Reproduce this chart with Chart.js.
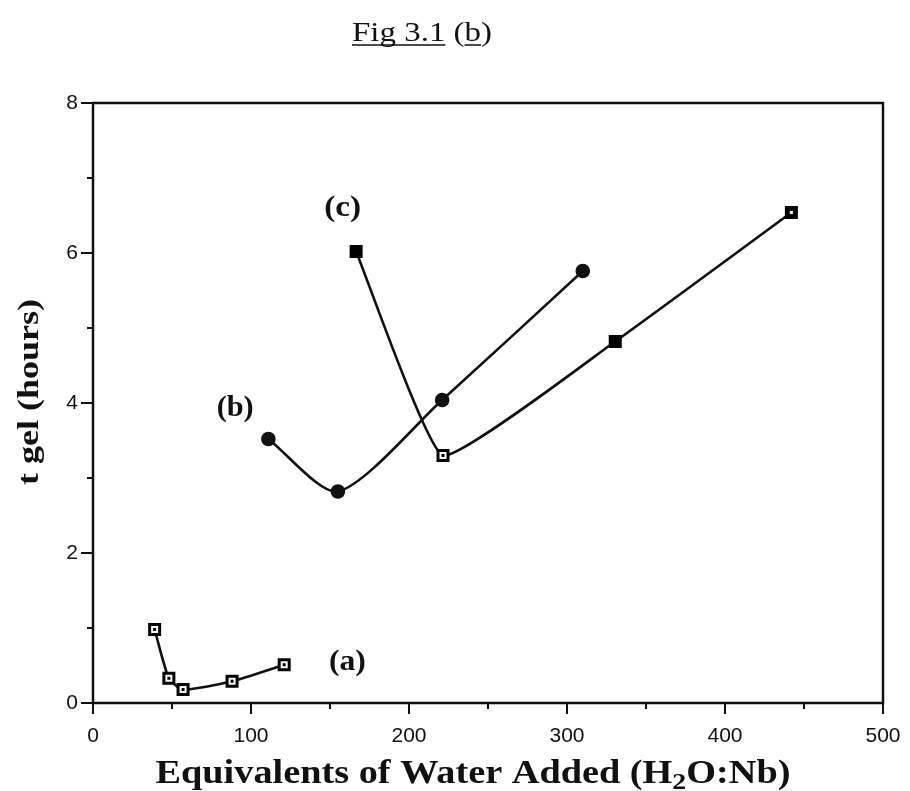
<!DOCTYPE html>
<html>
<head>
<meta charset="utf-8">
<script src="https://cdn.jsdelivr.net/npm/chart.js@4.4.1/dist/chart.umd.min.js"></script>
<style>
html,body{margin:0;padding:0;background:#fff;}
#wrap{width:910px;height:791px;position:relative;}
</style>
</head>
<body>
<div id="wrap"><canvas id="c" width="910" height="791"></canvas></div>
<script>
// ---- data ----
const seriesA_x = [39, 48, 57, 88, 121];
const seriesA_y = [0.98, 0.33, 0.18, 0.29, 0.51];
const seriesB_x = [111, 155, 221, 310];
const seriesB_y = [3.52, 2.82, 4.04, 5.76];
const seriesC_x = [166.5, 221.5, 330.5, 442];
const seriesC_y = [6.02, 3.30, 4.82, 6.54];
const xTicks = [0, 100, 200, 300, 400, 500];
const yTicks = [0, 2, 4, 6, 8];
const curveLabels = ["(a)", "(b)", "(c)"];
const curveLabelX = [161, 90, 158];
const curveLabelY = [0.55, 3.93, 6.6];
const chartTitle = "Fig 3.1 (b)";
const yTitle = "t gel (hours)";

// ---- marker images ----
function makeSquare(kind){
  const s = 15, cv = document.createElement('canvas');
  cv.width = s; cv.height = s;
  const g = cv.getContext('2d');
  g.fillStyle = '#000';
  g.fillRect(1,1,13,13);
  if (kind === 'open'){
    g.fillStyle = '#fff';
    g.fillRect(4,4,7,7);
    g.fillStyle = '#000';
    g.fillRect(6,6,3,3);
  } else if (kind === 'dot'){
    g.fillStyle = '#fff';
    g.fillRect(6,6,3,3);
  }
  return cv;
}
const sqOpen = makeSquare('open');
const sqFilled = makeSquare('filled');
const sqDot = makeSquare('dot');

const toPts = (xs, ys) => xs.map((x, i) => ({x: x, y: ys[i]}));

// draw text stretched horizontally to a target width, centred at (cx, y)
function stretchText(ctx, text, font, cx, y, targetW){
  ctx.font = font;
  const w = ctx.measureText(text).width;
  const sx = targetW / w;
  ctx.save();
  ctx.translate(cx, y);
  ctx.scale(sx, 1);
  ctx.textAlign = 'center';
  ctx.fillText(text, 0, 0);
  ctx.restore();
  return sx;
}

// ---- plugins ----
const framePlugin = {
  id: 'frame',
  afterDraw(chart){
    const {ctx, chartArea: a, scales} = chart;
    ctx.save();
    ctx.strokeStyle = '#111';
    ctx.fillStyle = '#111';
    ctx.lineWidth = 2.5;
    ctx.strokeRect(a.left, a.top, a.right - a.left, a.bottom - a.top);
    ctx.lineWidth = 2;
    scales.y.ticks.forEach(t => {
      const p = scales.y.getPixelForValue(t.value);
      const major = t.value % 2 === 0;
      ctx.beginPath();
      ctx.moveTo(a.left - (major ? 12 : 6), p);
      ctx.lineTo(a.left, p);
      ctx.stroke();
    });
    scales.x.ticks.forEach(t => {
      const p = scales.x.getPixelForValue(t.value);
      const major = t.value % 100 === 0;
      ctx.beginPath();
      ctx.moveTo(p, a.bottom);
      ctx.lineTo(p, a.bottom + (major ? 11 : 6));
      ctx.stroke();
    });
    // curve labels
    ctx.textBaseline = 'middle';
    curveLabels.forEach((l, i) => {
      stretchText(ctx, l, 'bold 30px "Liberation Serif", serif',
        scales.x.getPixelForValue(curveLabelX[i]), scales.y.getPixelForValue(curveLabelY[i]), 37);
    });
    // chart title with underline
    ctx.textBaseline = 'alphabetic';
    const tFont = '27px "Liberation Serif", serif';
    const tcx = 422, tyb = 41, tW = 140;
    const sx = stretchText(ctx, chartTitle, tFont, tcx, tyb, tW);
    ctx.font = tFont;
    const x0 = tcx - tW / 2;
    const wFig = ctx.measureText("Fig 3.1").width * sx;
    const wPre = ctx.measureText("Fig 3.1 (").width * sx;
    const wB = ctx.measureText("b").width * sx;
    ctx.lineWidth = 1.6;
    ctx.beginPath();
    ctx.moveTo(x0, tyb + 4); ctx.lineTo(x0 + wFig, tyb + 4);
    ctx.moveTo(x0 + wPre, tyb + 4); ctx.lineTo(x0 + wPre + wB, tyb + 4);
    ctx.stroke();
    // y title
    ctx.save();
    ctx.translate(30, 392);
    ctx.rotate(-Math.PI / 2);
    ctx.textBaseline = 'middle';
    stretchText(ctx, yTitle, 'bold 30px "Liberation Serif", serif', 0, 0, 186);
    ctx.restore();
    // x title with subscript, stretched
    const parts = [
      {t: "Equivalents of Water Added (H", sub: false},
      {t: "2", sub: true},
      {t: "O:Nb)", sub: false}
    ];
    const fMain = 'bold 33px "Liberation Serif", serif';
    const fSub = 'bold 24px "Liberation Serif", serif';
    let tw = 0;
    parts.forEach(p => { ctx.font = p.sub ? fSub : fMain; p.w = ctx.measureText(p.t).width; tw += p.w; });
    const targetW = 635;
    const xs = targetW / tw;
    ctx.save();
    ctx.translate(473 - targetW / 2, 783);
    ctx.scale(xs, 1);
    ctx.textAlign = 'left';
    ctx.textBaseline = 'alphabetic';
    let cx = 0;
    parts.forEach(p => {
      ctx.font = p.sub ? fSub : fMain;
      ctx.fillText(p.t, cx, p.sub ? 6 : 0);
      cx += p.w;
    });
    ctx.restore();
    ctx.restore();
  }
};

const lineDefaults = {
  borderColor: '#111',
  borderWidth: 2.6,
  showLine: true,
  fill: false
};

new Chart(document.getElementById('c'), {
  type: 'scatter',
  data: {
    datasets: [
      Object.assign({}, lineDefaults, {
        label: 'a',
        data: toPts(seriesA_x, seriesA_y),
        pointStyle: sqOpen,
        pointRadius: 7,
        tension: 0.2
      }),
      Object.assign({}, lineDefaults, {
        label: 'b',
        data: toPts(seriesB_x, seriesB_y),
        pointStyle: 'circle',
        pointRadius: 6,
        pointBackgroundColor: '#111',
        pointBorderColor: '#111',
        tension: 0.25
      }),
      Object.assign({}, lineDefaults, {
        label: 'c',
        data: toPts(seriesC_x, seriesC_y),
        pointStyle: [sqFilled, sqOpen, sqFilled, sqDot],
        pointRadius: 7,
        tension: 0.12
      })
    ]
  },
  options: {
    responsive: false,
    animation: false,
    devicePixelRatio: 1,
    layout: {padding: {left: 0, top: 103, right: 27, bottom: 0}},
    plugins: {legend: {display: false}, tooltip: {enabled: false}},
    scales: {
      x: {
        type: 'linear', min: 0, max: 500,
        afterFit(s){ s.height = 88; s.paddingLeft = 0; s.paddingRight = 0; },
        border: {display: false},
        grid: {display: false, drawTicks: false},
        ticks: {
          stepSize: 50,
          padding: 21,
          color: '#111',
          maxRotation: 0,
          autoSkip: false,
          font: {family: '"Liberation Sans", Arial, sans-serif', size: 21},
          callback: v => (xTicks.includes(v) ? String(v) : '')
        }
      },
      y: {
        type: 'linear', min: 0, max: 8,
        afterFit(s){ s.width = 93; s.paddingTop = 0; s.paddingBottom = 0; },
        border: {display: false},
        grid: {display: false, drawTicks: false},
        ticks: {
          stepSize: 1,
          padding: 15,
          color: '#111',
          autoSkip: false,
          font: {family: '"Liberation Sans", Arial, sans-serif', size: 21},
          callback: v => (yTicks.includes(v) ? String(v) : '')
        }
      }
    }
  },
  plugins: [framePlugin]
});
</script>
</body>
</html>
